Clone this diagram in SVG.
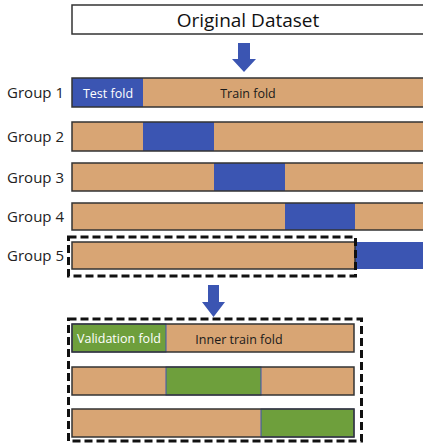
<svg xmlns="http://www.w3.org/2000/svg" width="423" height="443" viewBox="0 0 423 443">
  <style>
    .lbl { font-family: "Open Sans", "Liberation Sans", sans-serif; font-size: 15px; fill: #222; text-anchor: end; }
    .title { font-family: "Open Sans", "Liberation Sans", sans-serif; font-size: 19px; fill: #111; text-anchor: middle; }
    .in { font-family: "Open Sans", "Liberation Sans", sans-serif; font-size: 12.5px; text-anchor: middle; }
    .dark { fill: #1a1a1a; }
    .light { fill: #ffffff; }
    .train { fill: #D8A574; }
    .test { fill: #3B55B2; }
    .val { fill: #6E9F3C; stroke: #3B55B2; stroke-width: 1; }
    .frame { fill: none; stroke: #333; stroke-width: 1.5; }
    .dash { fill: none; stroke: #111; stroke-width: 3; stroke-dasharray: 8 4; }
    .arrow { fill: #3B55B2; }
  </style>

  <!-- source dataset -->
  <g id="original-dataset">
    <rect x="72" y="5" width="360" height="29" fill="#fff" stroke="#333" stroke-width="1.5"/>
    <text class="title" x="248" y="26.5">Original Dataset</text>
  </g>

  <g id="connectors">
    <polygon class="arrow" points="238,43 250,43 250,59 256,59 244,72 232,59 238,59"/>
    <polygon class="arrow" points="208,285 219,285 219,302 225,302 213.5,317 202,302 208,302"/>
  </g>

  <!-- outer folds -->
  <g id="group1">
    <text class="lbl" x="64" y="98">Group 1</text>
    <rect class="train" x="72" y="78" width="355" height="29"/>
    <rect class="test" x="72" y="78" width="71" height="29"/>
    <rect class="frame" x="72" y="78" width="355" height="29"/>
    <text class="in light" x="108" y="97.5">Test fold</text>
    <text class="in dark" x="248" y="97.5">Train fold</text>
  </g>
  <g id="group2">
    <text class="lbl" x="64" y="142">Group 2</text>
    <rect class="train" x="72" y="122" width="355" height="29"/>
    <rect class="test" x="143" y="122" width="71" height="29"/>
    <rect class="frame" x="72" y="122" width="355" height="29"/>
  </g>
  <g id="group3">
    <text class="lbl" x="64" y="182.5">Group 3</text>
    <rect class="train" x="72" y="163" width="355" height="28"/>
    <rect class="test" x="214" y="163" width="71" height="28"/>
    <rect class="frame" x="72" y="163" width="355" height="28"/>
  </g>
  <g id="group4">
    <text class="lbl" x="64" y="222">Group 4</text>
    <rect class="train" x="72" y="203" width="355" height="27"/>
    <rect class="test" x="285" y="203" width="70" height="27"/>
    <rect class="frame" x="72" y="203" width="355" height="27"/>
  </g>
  <g id="group5">
    <text class="lbl" x="64" y="261">Group 5</text>
    <rect class="train" x="72" y="242" width="283" height="27"/>
    <rect class="test" x="355" y="242" width="72" height="27"/>
    <rect class="frame" x="72" y="242" width="283" height="27"/>
    <rect class="dash" x="68.5" y="237" width="287" height="39"/>
  </g>

  <!-- inner folds of group 5 -->
  <g id="inner-folds">
    <rect class="dash" x="68.5" y="319" width="293" height="122"/>
  </g>
  <g id="inner1">
    <rect class="train" x="72" y="324" width="282" height="28"/>
    <rect class="val" x="72" y="324" width="94" height="28"/>
    <rect class="frame" x="72" y="324" width="282" height="28"/>
    <text class="in light" x="119" y="342.5" font-size="11">Validation fold</text>
    <text class="in dark" x="239" y="343.5">Inner train fold</text>
  </g>
  <g id="inner2">
    <rect class="train" x="72" y="367" width="282" height="28"/>
    <rect class="val" x="166" y="367" width="95" height="28"/>
    <rect class="frame" x="72" y="367" width="282" height="28"/>
  </g>
  <g id="inner3">
    <rect class="train" x="72" y="409" width="282" height="28"/>
    <rect class="val" x="261" y="409" width="93" height="28"/>
    <rect class="frame" x="72" y="409" width="282" height="28"/>
  </g>
</svg>
